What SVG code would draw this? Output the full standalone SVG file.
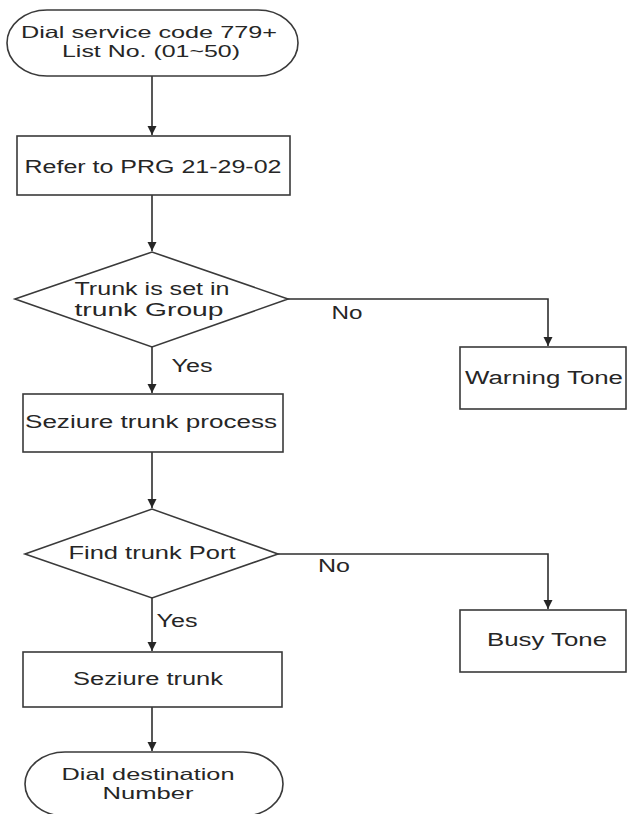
<svg xmlns="http://www.w3.org/2000/svg" width="627" height="814" viewBox="0 0 627 814">
<style>
.shape{fill:#ffffff;stroke:#3a3a3a;stroke-width:1.6}
.conn{fill:none;stroke:#2e2e2e;stroke-width:1.6}
text{font-family:"Liberation Sans",Arial,sans-serif;font-size:18px;fill:#262626;text-anchor:middle}
.tight{font-size:16.5px}
</style>
<defs>
<marker id="arr" markerWidth="10" markerHeight="10" refX="9" refY="5" orient="auto" markerUnits="userSpaceOnUse">
<path d="M0,0.5 L9,5 L0,9.5 Z" fill="#262626"/>
</marker>
</defs>
<rect width="627" height="814" fill="#ffffff"/>
<g id="connectors">
<line class="conn" x1="152" y1="76" x2="152" y2="135" marker-end="url(#arr)"/>
<line class="conn" x1="152" y1="195" x2="152" y2="251" marker-end="url(#arr)"/>
<polyline class="conn" points="288,299 548,299 548,346" marker-end="url(#arr)"/>
<line class="conn" x1="152" y1="347" x2="152" y2="393" marker-end="url(#arr)"/>
<line class="conn" x1="152" y1="452" x2="152" y2="508" marker-end="url(#arr)"/>
<polyline class="conn" points="278,554 548,554 548,609" marker-end="url(#arr)"/>
<line class="conn" x1="152" y1="598" x2="152" y2="651" marker-end="url(#arr)"/>
<line class="conn" x1="152" y1="707" x2="152" y2="751" marker-end="url(#arr)"/>
<text x="347" y="319" textLength="31" lengthAdjust="spacingAndGlyphs">No</text>
<text x="192" y="372" textLength="41" lengthAdjust="spacingAndGlyphs">Yes</text>
<text x="334" y="572" textLength="32" lengthAdjust="spacingAndGlyphs">No</text>
<text x="177" y="627" textLength="41" lengthAdjust="spacingAndGlyphs">Yes</text>
</g>
<g id="start">
<rect class="shape" x="7" y="10" width="291" height="66" rx="40" ry="33"/>
<text class="tight" x="149" y="38" textLength="256" lengthAdjust="spacingAndGlyphs">Dial service code 779+</text>
<text class="tight" x="151" y="57" textLength="178" lengthAdjust="spacingAndGlyphs">List No. (01~50)</text>
</g>
<g id="refer">
<rect class="shape" x="17" y="136" width="273" height="59"/>
<text x="153" y="173" textLength="257" lengthAdjust="spacingAndGlyphs">Refer to PRG 21-29-02</text>
</g>
<g id="trunk-set">
<polygon class="shape" points="15,299 152,252 288,299 152,347"/>
<text x="152" y="295" textLength="155" lengthAdjust="spacingAndGlyphs">Trunk is set in</text>
<text x="149" y="316" textLength="149" lengthAdjust="spacingAndGlyphs">trunk Group</text>
</g>
<g id="warning">
<rect class="shape" x="460" y="347" width="166" height="62"/>
<text x="544" y="384" textLength="158" lengthAdjust="spacingAndGlyphs">Warning Tone</text>
</g>
<g id="seize-process">
<rect class="shape" x="23" y="394" width="260" height="58"/>
<text x="151" y="428" textLength="252" lengthAdjust="spacingAndGlyphs">Seziure trunk process</text>
</g>
<g id="find-port">
<polygon class="shape" points="25,554 152,509 278,554 152,598"/>
<text x="152" y="559" textLength="167" lengthAdjust="spacingAndGlyphs">Find trunk Port</text>
</g>
<g id="busy">
<rect class="shape" x="460" y="610" width="166" height="62"/>
<text x="547" y="646" textLength="120" lengthAdjust="spacingAndGlyphs">Busy Tone</text>
</g>
<g id="seize">
<rect class="shape" x="23" y="652" width="259" height="55"/>
<text x="148" y="685" textLength="150" lengthAdjust="spacingAndGlyphs">Seziure trunk</text>
</g>
<g id="end">
<rect class="shape" x="25" y="752" width="258" height="64" rx="40" ry="32"/>
<text class="tight" x="148" y="780" textLength="173" lengthAdjust="spacingAndGlyphs">Dial destination</text>
<text class="tight" x="148" y="799" textLength="91" lengthAdjust="spacingAndGlyphs">Number</text>
</g>
</svg>
